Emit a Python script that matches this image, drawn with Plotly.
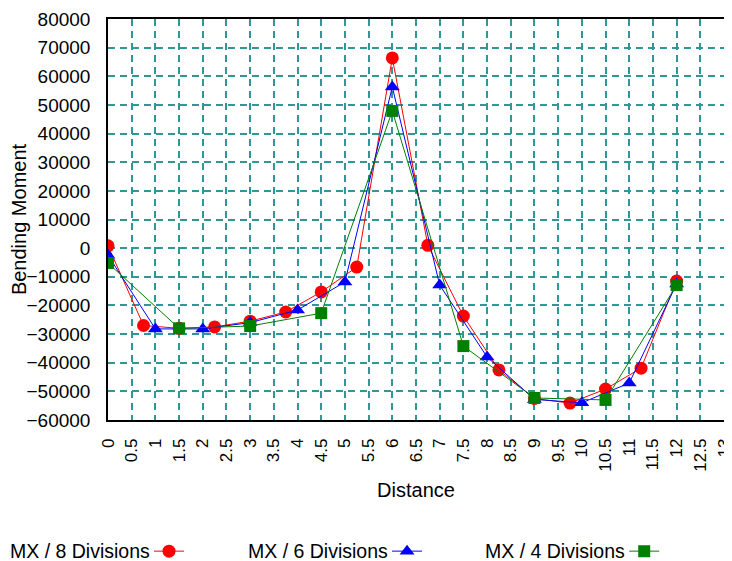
import plotly.graph_objects as go

# distances along the beam for each mesh
x_8 = [0, 0.75, 1.5, 2.25, 3, 3.75, 4.5, 5.25, 6, 6.75, 7.5, 8.25, 9, 9.75, 10.5, 11.25, 12]
x_6 = [0, 1, 2, 3, 4, 5, 6, 7, 8, 9, 10, 11, 12]
x_4 = [0, 1.5, 3, 4.5, 6, 7.5, 9, 10.5, 12]

# bending moment MX
mx_8 = [800, -27000, -28000, -27500, -25500, -22300, -15300, -6600, 66400,
        1000, -23700, -42500, -52500, -54100, -49200, -41900, -11500]
mx_6 = [-2500, -28200, -28200, -26000, -21600, -11800, 56300, -12900,
        -38000, -52800, -54000, -47100, -12500]
mx_4 = [-5200, -28000, -27200, -22700, 47900, -34200, -52300, -53000, -12900]

names = ["MX / 8 Divisions", "MX / 6 Divisions", "MX / 4 Divisions"]
colors = ["#ff0000", "#0000ff", "#008000"]
symbols = ["circle", "triangle-up", "square"]
legends = ["legend", "legend2", "legend3"]

grid = "#2f9797"
font = "Liberation Sans, Arial, sans-serif"

# one legend per series so the symbol can sit right after its label
leg_x = [0.0666, 0.453, 0.838]
text_x = [0.070, 0.4555, 0.841]
leg_y = -0.327

fig = go.Figure()
for xs, ys, nm, c, s, lg in zip([x_8, x_6, x_4], [mx_8, mx_6, mx_4], names, colors, symbols, legends):
    fig.add_trace(go.Scatter(
        x=xs, y=ys, mode="lines+markers", name="", legend=lg,
        hovertemplate=nm + "<br>%{x}, %{y}<extra></extra>",
        line=dict(color=c, width=1),
        marker=dict(color=c, symbol=s, size=13 if s != "square" else 12),
    ))

for i, nm in enumerate(names):
    fig.add_annotation(
        x=text_x[i], y=leg_y, xref="paper", yref="paper",
        xanchor="right", yanchor="middle", showarrow=False, borderpad=0,
        text=nm, font=dict(size=19.5, color="black", family=font),
    )

leg_common = dict(orientation="h", xanchor="left", y=leg_y, yanchor="middle",
                  itemwidth=30, bgcolor="rgba(0,0,0,0)", font=dict(size=4))
# page body adds an 8px offset, margins account for it
fig.update_layout(
    width=732, height=561,
    margin=dict(l=100, r=16, t=11, b=149, autoexpand=False),
    paper_bgcolor="white", plot_bgcolor="white",
    font=dict(family=font, size=19, color="black"),
    showlegend=True,
    legend=dict(x=leg_x[0], **leg_common),
    legend2=dict(x=leg_x[1], **leg_common),
    legend3=dict(x=leg_x[2], **leg_common),
)
fig.update_xaxes(
    range=[0, 13.0001], dtick=0.5, tick0=0, tickangle=-90, automargin=False,
    showgrid=True, gridcolor=grid, griddash="7px,5px", gridwidth=1.5,
    showline=True, mirror=True, linecolor="black", linewidth=1.5,
    zeroline=False, ticks="", ticklabelstandoff=10, tickfont=dict(size=17),
    title=dict(text="Distance", font=dict(size=20), standoff=12),
)
fig.update_yaxes(
    range=[-60000, 80000], dtick=10000, tick0=0, tickformat="d", automargin=False,
    showgrid=True, gridcolor=grid, griddash="7px,5px", gridwidth=1.5,
    showline=True, mirror=True, linecolor="black", linewidth=1.5,
    zeroline=False, ticks="", ticklabelstandoff=12, tickfont=dict(size=19),
    title=dict(text="Bending Moment", font=dict(size=20), standoff=14),
)

fig.write_html("out.html")
